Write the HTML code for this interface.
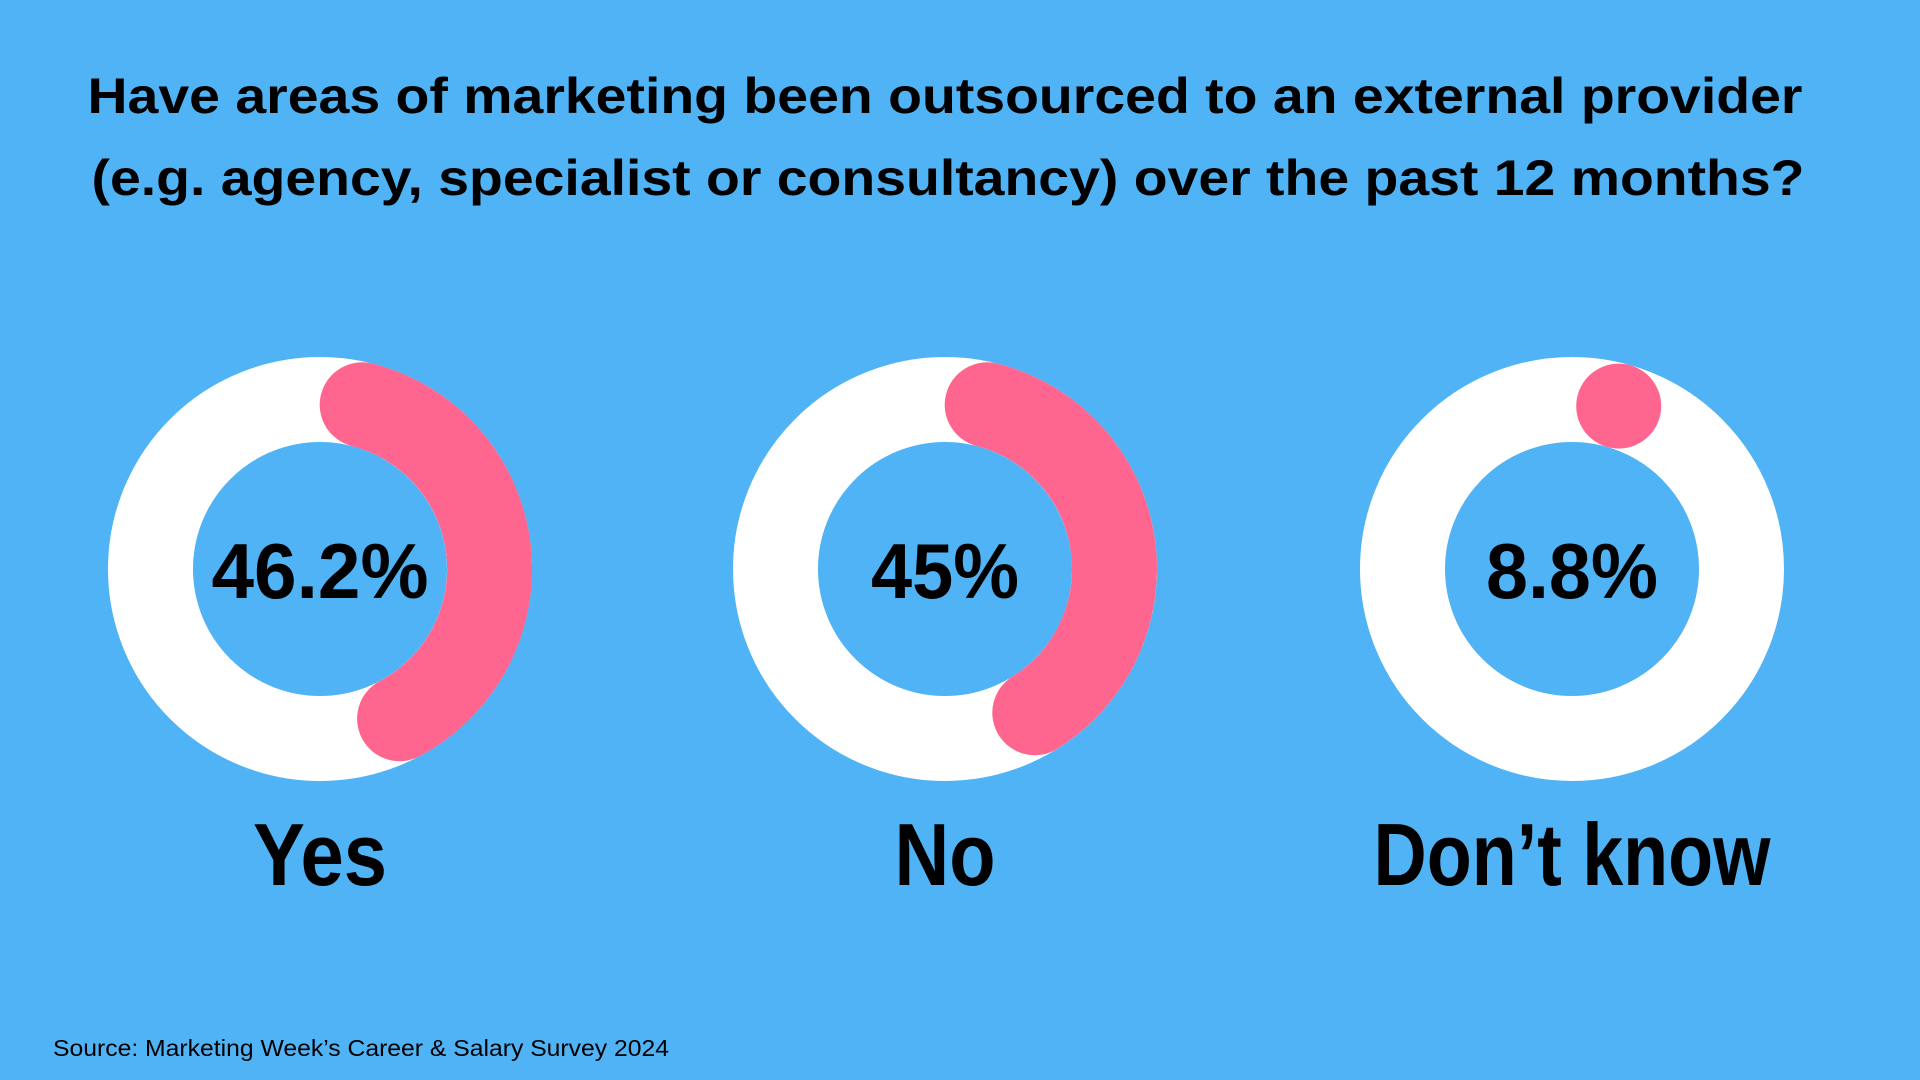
<!DOCTYPE html>
<html><head><meta charset="utf-8"><style>
html,body{margin:0;padding:0;background:#4fb3f5;}
svg{display:block}
text{font-family:"Liberation Sans",sans-serif;font-weight:bold;fill:#000;}
</style></head><body>
<svg width="1920" height="1080" viewBox="0 0 1920 1080">
<rect width="1920" height="1080" fill="#4fb3f5"/>
<text x="945" y="113" font-size="50" text-anchor="middle" textLength="1715" lengthAdjust="spacingAndGlyphs">Have areas of marketing been outsourced to an external provider</text>
<text x="948" y="195" font-size="50" text-anchor="middle" textLength="1713" lengthAdjust="spacingAndGlyphs">(e.g. agency, specialist or consultancy) over the past 12 months?</text>
<g fill="none" stroke-width="85">
<circle cx="320" cy="569" r="169.5" stroke="#fff"/>
<circle cx="945" cy="569" r="169.5" stroke="#fff"/>
<circle cx="1572" cy="569" r="169.5" stroke="#fff"/>
</g>
<g fill="none" stroke="#ff668f" stroke-width="85" stroke-linecap="round">
<path d="M362.2,404.8 A169.5,169.5 0 0 1 399.6,718.7"/>
<path d="M987.2,404.8 A169.5,169.5 0 0 1 1034.8,712.7"/>
</g>
<circle cx="1618.7" cy="406.1" r="42.5" fill="#ff668f"/>
<text x="320" y="598" font-size="78" text-anchor="middle" textLength="217" lengthAdjust="spacingAndGlyphs">46.2%</text>
<text x="945" y="598" font-size="78" text-anchor="middle" textLength="148" lengthAdjust="spacingAndGlyphs">45%</text>
<text x="1572" y="598" font-size="78" text-anchor="middle" textLength="172" lengthAdjust="spacingAndGlyphs">8.8%</text>
<text x="320" y="885" font-size="88" text-anchor="middle" textLength="134" lengthAdjust="spacingAndGlyphs">Yes</text>
<text x="945" y="885" font-size="88" text-anchor="middle" textLength="101" lengthAdjust="spacingAndGlyphs">No</text>
<text x="1572" y="885" font-size="88" text-anchor="middle" textLength="397" lengthAdjust="spacingAndGlyphs">Don’t know</text>
<text x="53" y="1056" font-size="23" style="font-weight:normal" textLength="616" lengthAdjust="spacingAndGlyphs">Source: Marketing Week’s Career &amp; Salary Survey 2024</text>
</svg>
</body></html>
